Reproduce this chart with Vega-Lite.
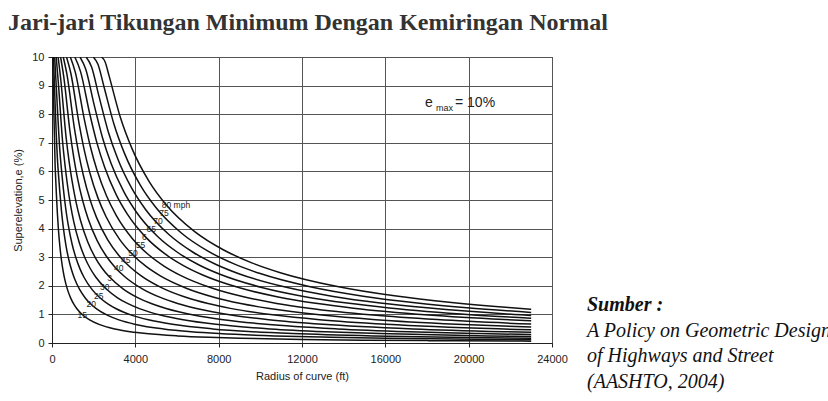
{
"$schema": "https://vega.github.io/schema/vega-lite/v6.json",
"width": 500,
"height": 286,
"autosize": {"type": "none"},
"padding": {"left": 52, "top": 57, "right": 276, "bottom": 58},
"background": "white",
"title": {"text": "Jari-jari Tikungan Minimum Dengan Kemiringan Normal", "anchor": "start", "frame": "group", "font": "Liberation Serif", "fontSize": 24, "fontWeight": "bold", "color": "#333333", "dx": -44, "dy": 29, "offset": 26, "baseline": "alphabetic"},
"config": {
  "view": {"stroke": "#222222", "strokeWidth": 1},
  "axis": {"labelFont": "Liberation Sans", "titleFont": "Liberation Sans", "labelColor": "#222222", "titleColor": "#222222", "labelFontSize": 11, "titleFontSize": 11, "titleFontWeight": "normal", "gridColor": "#555555", "gridWidth": 1, "gridOpacity": 1, "domainColor": "#222222", "tickColor": "#222222", "tickSize": 4, "labelOverlap": false}
},
"datasets": {
"curves": [
{"s":15,"r":35.8,"e":10},{"s":15,"r":57.8,"e":9.048},{"s":15,"r":150.5,"e":6.19},{"s":15,"r":180.6,"e":5.687},{"s":15,"r":210.7,"e":5.199},{"s":15,"r":255.9,"e":4.564},{"s":15,"r":301,"e":4.048},{"s":15,"r":376.3,"e":3.39},{"s":15,"r":451.5,"e":2.91},{"s":15,"r":526.8,"e":2.546},{"s":15,"r":602,"e":2.262},{"s":15,"r":752.5,"e":1.848},{"s":15,"r":903,"e":1.561},{"s":15,"r":1053.5,"e":1.351},{"s":15,"r":1204,"e":1.19},{"s":15,"r":1505,"e":0.962},{"s":15,"r":1806,"e":0.807},{"s":15,"r":2257.5,"e":0.65},{"s":15,"r":3010,"e":0.49},{"s":15,"r":3762.5,"e":0.394},{"s":15,"r":4515,"e":0.329},{"s":15,"r":6020,"e":0.248},{"s":15,"r":7525,"e":0.198},{"s":15,"r":9030,"e":0.166},{"s":15,"r":12040,"e":0.124},{"s":15,"r":15050,"e":0.0996},{"s":15,"r":18060,"e":0.083},{"s":15,"r":22575,"e":0.0665},{"s":15,"r":23000,"e":0.0653},
{"s":20,"r":72.3,"e":10},{"s":20,"r":113.8,"e":9.088},{"s":20,"r":267.5,"e":6.351},{"s":20,"r":321,"e":5.799},{"s":20,"r":374.5,"e":5.281},{"s":20,"r":454.8,"e":4.619},{"s":20,"r":535,"e":4.088},{"s":20,"r":668.8,"e":3.416},{"s":20,"r":802.5,"e":2.928},{"s":20,"r":936.3,"e":2.559},{"s":20,"r":1070,"e":2.272},{"s":20,"r":1337.5,"e":1.854},{"s":20,"r":1605,"e":1.566},{"s":20,"r":1872.5,"e":1.354},{"s":20,"r":2140,"e":1.193},{"s":20,"r":2675,"e":0.964},{"s":20,"r":3210,"e":0.808},{"s":20,"r":4012.5,"e":0.65},{"s":20,"r":5350,"e":0.491},{"s":20,"r":6687.5,"e":0.394},{"s":20,"r":8025,"e":0.329},{"s":20,"r":10700,"e":0.248},{"s":20,"r":13375,"e":0.199},{"s":20,"r":16050,"e":0.166},{"s":20,"r":21400,"e":0.124},{"s":20,"r":23000,"e":0.1158},
{"s":25,"r":126.7,"e":10},{"s":25,"r":190.7,"e":9.161},{"s":25,"r":385.3,"e":6.644},{"s":25,"r":462.4,"e":6.002},{"s":25,"r":539.4,"e":5.431},{"s":25,"r":655,"e":4.721},{"s":25,"r":770.6,"e":4.161},{"s":25,"r":963.3,"e":3.463},{"s":25,"r":1155.9,"e":2.96},{"s":25,"r":1348.6,"e":2.583},{"s":25,"r":1541.2,"e":2.29},{"s":25,"r":1926.5,"e":1.866},{"s":25,"r":2311.8,"e":1.574},{"s":25,"r":2697.1,"e":1.36},{"s":25,"r":3082.4,"e":1.198},{"s":25,"r":3853,"e":0.966},{"s":25,"r":4623.6,"e":0.81},{"s":25,"r":5779.5,"e":0.652},{"s":25,"r":7706,"e":0.492},{"s":25,"r":9632.5,"e":0.395},{"s":25,"r":11559,"e":0.33},{"s":25,"r":15412,"e":0.248},{"s":25,"r":19265,"e":0.199},{"s":25,"r":23000,"e":0.1666},
{"s":30,"r":200.7,"e":10},{"s":30,"r":290.3,"e":9.228},{"s":30,"r":524.4,"e":6.913},{"s":30,"r":629.3,"e":6.189},{"s":30,"r":734.2,"e":5.568},{"s":30,"r":891.5,"e":4.814},{"s":30,"r":1048.8,"e":4.228},{"s":30,"r":1311,"e":3.506},{"s":30,"r":1573.2,"e":2.99},{"s":30,"r":1835.4,"e":2.605},{"s":30,"r":2097.6,"e":2.307},{"s":30,"r":2622,"e":1.877},{"s":30,"r":3146.4,"e":1.581},{"s":30,"r":3670.8,"e":1.366},{"s":30,"r":4195.2,"e":1.202},{"s":30,"r":5244,"e":0.969},{"s":30,"r":6292.8,"e":0.812},{"s":30,"r":7866,"e":0.653},{"s":30,"r":10488,"e":0.492},{"s":30,"r":13110,"e":0.395},{"s":30,"r":15732,"e":0.33},{"s":30,"r":20976,"e":0.248},{"s":30,"r":23000,"e":0.2264},
{"s":35,"r":292.6,"e":10},{"s":35,"r":410,"e":9.284},{"s":35,"r":684.9,"e":7.136},{"s":35,"r":821.9,"e":6.344},{"s":35,"r":958.9,"e":5.682},{"s":35,"r":1164.3,"e":4.891},{"s":35,"r":1369.8,"e":4.284},{"s":35,"r":1712.3,"e":3.542},{"s":35,"r":2054.7,"e":3.015},{"s":35,"r":2397.2,"e":2.623},{"s":35,"r":2739.6,"e":2.321},{"s":35,"r":3424.5,"e":1.885},{"s":35,"r":4109.4,"e":1.587},{"s":35,"r":4794.3,"e":1.37},{"s":35,"r":5479.2,"e":1.205},{"s":35,"r":6849,"e":0.971},{"s":35,"r":8218.8,"e":0.814},{"s":35,"r":10273.5,"e":0.654},{"s":35,"r":13698,"e":0.493},{"s":35,"r":17122.5,"e":0.395},{"s":35,"r":20547,"e":0.33},{"s":35,"r":23000,"e":0.2953},
{"s":40,"r":411.6,"e":10},{"s":40,"r":558.2,"e":9.343},{"s":40,"r":866.9,"e":7.374},{"s":40,"r":1040.3,"e":6.509},{"s":40,"r":1213.7,"e":5.803},{"s":40,"r":1473.7,"e":4.973},{"s":40,"r":1733.8,"e":4.343},{"s":40,"r":2167.3,"e":3.58},{"s":40,"r":2600.7,"e":3.041},{"s":40,"r":3034.2,"e":2.643},{"s":40,"r":3467.6,"e":2.336},{"s":40,"r":4334.5,"e":1.895},{"s":40,"r":5201.4,"e":1.594},{"s":40,"r":6068.3,"e":1.375},{"s":40,"r":6935.2,"e":1.209},{"s":40,"r":8669,"e":0.974},{"s":40,"r":10402.8,"e":0.815},{"s":40,"r":13003.5,"e":0.655},{"s":40,"r":17338,"e":0.493},{"s":40,"r":21672.5,"e":0.396},{"s":40,"r":23000,"e":0.3732},
{"s":45,"r":541.8,"e":10},{"s":45,"r":719.4,"e":9.383},{"s":45,"r":1070.2,"e":7.531},{"s":45,"r":1284.2,"e":6.618},{"s":45,"r":1498.3,"e":5.883},{"s":45,"r":1819.3,"e":5.028},{"s":45,"r":2140.4,"e":4.383},{"s":45,"r":2675.5,"e":3.605},{"s":45,"r":3210.6,"e":3.059},{"s":45,"r":3745.7,"e":2.656},{"s":45,"r":4280.8,"e":2.346},{"s":45,"r":5351,"e":1.901},{"s":45,"r":6421.2,"e":1.598},{"s":45,"r":7491.4,"e":1.378},{"s":45,"r":8561.6,"e":1.211},{"s":45,"r":10702,"e":0.975},{"s":45,"r":12842.4,"e":0.816},{"s":45,"r":16053,"e":0.656},{"s":45,"r":21404,"e":0.494},{"s":45,"r":23000,"e":0.46},
{"s":50,"r":696.7,"e":10},{"s":50,"r":906,"e":9.423},{"s":50,"r":1294.9,"e":7.69},{"s":50,"r":1553.9,"e":6.729},{"s":50,"r":1812.9,"e":5.964},{"s":50,"r":2201.3,"e":5.083},{"s":50,"r":2589.8,"e":4.423},{"s":50,"r":3237.3,"e":3.63},{"s":50,"r":3884.7,"e":3.076},{"s":50,"r":4532.2,"e":2.668},{"s":50,"r":5179.6,"e":2.356},{"s":50,"r":6474.5,"e":1.908},{"s":50,"r":7769.4,"e":1.603},{"s":50,"r":9064.3,"e":1.382},{"s":50,"r":10359.2,"e":1.214},{"s":50,"r":12949,"e":0.977},{"s":50,"r":15538.8,"e":0.817},{"s":50,"r":19423.5,"e":0.657},{"s":50,"r":23000,"e":0.5558},
{"s":55,"r":879.7,"e":10},{"s":55,"r":1120,"e":9.464},{"s":55,"r":1541.1,"e":7.854},{"s":55,"r":1849.3,"e":6.843},{"s":55,"r":2157.5,"e":6.048},{"s":55,"r":2619.9,"e":5.139},{"s":55,"r":3082.2,"e":4.464},{"s":55,"r":3852.8,"e":3.657},{"s":55,"r":4623.3,"e":3.095},{"s":55,"r":5393.9,"e":2.682},{"s":55,"r":6164.4,"e":2.366},{"s":55,"r":7705.5,"e":1.914},{"s":55,"r":9246.6,"e":1.607},{"s":55,"r":10787.7,"e":1.385},{"s":55,"r":12328.8,"e":1.217},{"s":55,"r":15411,"e":0.979},{"s":55,"r":18493.2,"e":0.818},{"s":55,"r":23000,"e":0.6606},
{"s":60,"r":1094.5,"e":10},{"s":60,"r":1363.7,"e":9.507},{"s":60,"r":1808.6,"e":8.026},{"s":60,"r":2170.3,"e":6.962},{"s":60,"r":2532,"e":6.136},{"s":60,"r":3074.6,"e":5.199},{"s":60,"r":3617.2,"e":4.507},{"s":60,"r":4521.5,"e":3.684},{"s":60,"r":5425.8,"e":3.114},{"s":60,"r":6330.1,"e":2.696},{"s":60,"r":7234.4,"e":2.377},{"s":60,"r":9043,"e":1.921},{"s":60,"r":10851.6,"e":1.612},{"s":60,"r":12660.2,"e":1.389},{"s":60,"r":14468.8,"e":1.219},{"s":60,"r":18086,"e":0.98},{"s":60,"r":21703.2,"e":0.82},{"s":60,"r":23000,"e":0.7741},
{"s":65,"r":1345.7,"e":10},{"s":65,"r":1616.4,"e":9.581},{"s":65,"r":2023.3,"e":8.325},{"s":65,"r":2428,"e":7.17},{"s":65,"r":2832.6,"e":6.288},{"s":65,"r":3439.6,"e":5.302},{"s":65,"r":4046.6,"e":4.581},{"s":65,"r":5058.3,"e":3.732},{"s":65,"r":6069.9,"e":3.147},{"s":65,"r":7081.6,"e":2.72},{"s":65,"r":8093.2,"e":2.395},{"s":65,"r":10116.5,"e":1.933},{"s":65,"r":12139.8,"e":1.62},{"s":65,"r":14163.1,"e":1.395},{"s":65,"r":16186.4,"e":1.224},{"s":65,"r":20233,"e":0.983},{"s":65,"r":23000,"e":0.8667},
{"s":70,"r":1638.7,"e":10},{"s":70,"r":1896.3,"e":9.66},{"s":70,"r":2250.1,"e":8.641},{"s":70,"r":2700.1,"e":7.389},{"s":70,"r":3150.1,"e":6.45},{"s":70,"r":3825.2,"e":5.412},{"s":70,"r":4500.2,"e":4.66},{"s":70,"r":5625.3,"e":3.783},{"s":70,"r":6750.3,"e":3.182},{"s":70,"r":7875.4,"e":2.746},{"s":70,"r":9000.4,"e":2.415},{"s":70,"r":11250.5,"e":1.946},{"s":70,"r":13500.6,"e":1.629},{"s":70,"r":15750.7,"e":1.401},{"s":70,"r":18000.8,"e":1.229},{"s":70,"r":22501,"e":0.986},{"s":70,"r":23000,"e":0.9653},
{"s":75,"r":1980.2,"e":10},{"s":75,"r":2205.6,"e":9.745},{"s":75,"r":2488.9,"e":8.978},{"s":75,"r":2986.7,"e":7.623},{"s":75,"r":3484.5,"e":6.622},{"s":75,"r":4231.1,"e":5.528},{"s":75,"r":4977.8,"e":4.745},{"s":75,"r":6222.3,"e":3.837},{"s":75,"r":7466.7,"e":3.22},{"s":75,"r":8711.2,"e":2.774},{"s":75,"r":9955.6,"e":2.436},{"s":75,"r":12444.5,"e":1.959},{"s":75,"r":14933.4,"e":1.638},{"s":75,"r":17422.3,"e":1.408},{"s":75,"r":19911.2,"e":1.234},{"s":75,"r":23000,"e":1.0701},
{"s":80,"r":2378.2,"e":10},{"s":80,"r":2546.2,"e":9.835},{"s":80,"r":2739.7,"e":9.34},{"s":80,"r":3287.6,"e":7.875},{"s":80,"r":3835.6,"e":6.806},{"s":80,"r":4657.5,"e":5.654},{"s":80,"r":5479.4,"e":4.835},{"s":80,"r":6849.3,"e":3.894},{"s":80,"r":8219.1,"e":3.26},{"s":80,"r":9589,"e":2.803},{"s":80,"r":10958.8,"e":2.459},{"s":80,"r":13698.5,"e":1.974},{"s":80,"r":16438.2,"e":1.648},{"s":80,"r":19177.9,"e":1.415},{"s":80,"r":21917.6,"e":1.24},{"s":80,"r":23000,"e":1.1818}
],
"labels": [
{"t":"15","r":1455,"e":0.98},{"t":"20","r":1888,"e":1.36},{"t":"25","r":2240,"e":1.65},{"t":"30","r":2528,"e":1.97},{"t":"3","r":2760,"e":2.27},{"t":"40","r":3200,"e":2.61},{"t":"45","r":3540,"e":2.9},{"t":"50","r":3888,"e":3.16},{"t":"55","r":4250,"e":3.43},{"t":"6","r":4432,"e":3.7},{"t":"65","r":4768,"e":3.99},{"t":"70","r":5088,"e":4.28},{"t":"75","r":5376,"e":4.53},{"t":"80 mph","r":5950,"e":4.83}
],
"one": [{"k": 1}]
},
"layer": [
{
  "data": {"name": "curves"},
  "mark": {"type": "line", "interpolate": "monotone", "color": "#111111", "strokeWidth": 1.5, "clip": true},
  "encoding": {
    "x": {"field": "r", "type": "quantitative", "scale": {"domain": [0, 24000], "nice": false, "zero": false},
          "axis": {"title": "Radius of curve (ft)", "values": [0,4000,8000,12000,16000,20000,24000], "format": "d", "labelPadding": 6, "labelFlush": false, "titleX": 250, "titleY": 33, "titleBaseline": "middle", "titleAlign": "center"}},
    "y": {"field": "e", "type": "quantitative", "scale": {"domain": [0, 10], "nice": false},
          "axis": {"title": "Superelevation,e (%)", "values": [0,1,2,3,4,5,6,7,8,9,10], "tickCount": 11, "format": "d", "labelPadding": 4, "titleX": -34, "titleY": 143, "titleAngle": -90, "titleBaseline": "middle", "titleAlign": "center"}},
    "detail": {"field": "s", "type": "nominal"}
  }
},
{
  "data": {"name": "labels"},
  "mark": {"type": "text", "font": "Liberation Sans", "fontSize": 8.5, "color": "#222222", "align": "center", "baseline": "middle"},
  "encoding": {
    "x": {"field": "r", "type": "quantitative", "axis": {"title": "Radius of curve (ft)", "values": [0,4000,8000,12000,16000,20000,24000], "format": "d", "labelPadding": 6, "labelFlush": false, "titleX": 250, "titleY": 33, "titleBaseline": "middle", "titleAlign": "center"}},
    "y": {"field": "e", "type": "quantitative", "axis": {"title": "Superelevation,e (%)", "values": [0,1,2,3,4,5,6,7,8,9,10], "tickCount": 11, "format": "d", "labelPadding": 4, "titleX": -34, "titleY": 143, "titleAngle": -90, "titleBaseline": "middle", "titleAlign": "center"}},
    "text": {"field": "t", "type": "nominal"}
  }
},
{
  "data": {"name": "one"},
  "mark": {"type": "text", "text": "e", "font": "Liberation Sans", "fontSize": 14, "color": "#222222", "align": "left", "baseline": "middle"},
  "encoding": {"x": {"datum": 17904, "type": "quantitative"}, "y": {"datum": 8.39, "type": "quantitative"}}
},
{
  "data": {"name": "one"},
  "mark": {"type": "text", "text": "max", "font": "Liberation Sans", "fontSize": 9, "color": "#222222", "align": "left", "baseline": "middle"},
  "encoding": {"x": {"datum": 18432, "type": "quantitative"}, "y": {"datum": 8.22, "type": "quantitative"}}
},
{
  "data": {"name": "one"},
  "mark": {"type": "text", "text": "= 10%", "font": "Liberation Sans", "fontSize": 14, "color": "#222222", "align": "left", "baseline": "middle"},
  "encoding": {"x": {"datum": 19344, "type": "quantitative"}, "y": {"datum": 8.39, "type": "quantitative"}}
},
{
  "data": {"name": "one"},
  "mark": {"type": "text", "text": "Sumber :", "font": "Liberation Serif", "fontSize": 20, "fontWeight": "bold", "fontStyle": "italic", "color": "#111111", "align": "left", "baseline": "alphabetic"},
  "encoding": {"x": {"datum": 25680, "type": "quantitative"}, "y": {"datum": 1.119, "type": "quantitative"}}
},
{
  "data": {"name": "one"},
  "mark": {"type": "text", "text": ["A Policy on Geometric Design", "of Highways and Street", "(AASHTO, 2004)"], "lineHeight": 25.5, "font": "Liberation Serif", "fontSize": 20, "fontStyle": "italic", "color": "#111111", "align": "left", "baseline": "alphabetic"},
  "encoding": {"x": {"datum": 25680, "type": "quantitative"}, "y": {"datum": 0.21, "type": "quantitative"}}
}
]
}
